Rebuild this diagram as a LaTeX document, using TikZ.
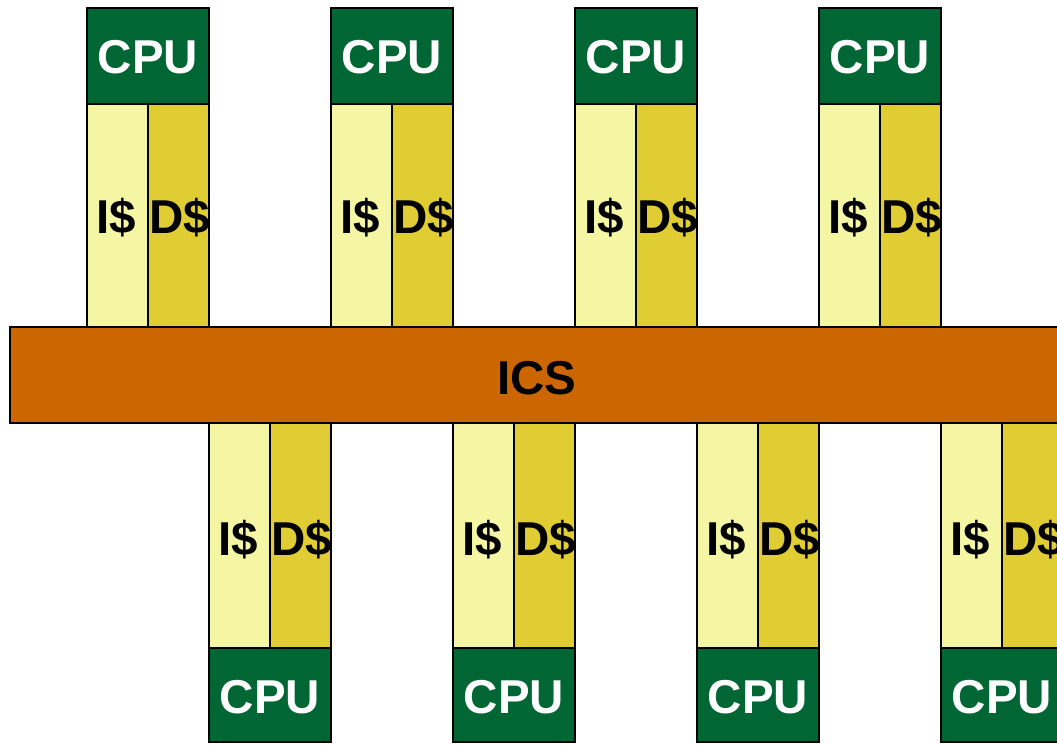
\documentclass[tikz,border=0pt]{standalone}
\usepackage{fontspec}
\setmainfont{Liberation Sans}
\definecolor{cpugreen}{HTML}{006633}
\definecolor{icsorange}{HTML}{CC6600}
\definecolor{icache}{HTML}{F4F6A4}
\definecolor{dcache}{HTML}{E0CC33}
\begin{document}
\begin{tikzpicture}[x=1pt,y=-1pt,
  box/.style={draw=black,line width=2pt,anchor=north west,inner sep=0pt,outer sep=0pt},
  cpubox/.style={box,fill=cpugreen,minimum width=122pt,minimum height=96pt},
  ibox/.style={box,fill=icache,minimum width=61pt,minimum height=#1},
  dbox/.style={box,fill=dcache,minimum width=61pt,minimum height=#1},
  lbl/.style={font=\fontsize{47.5}{47.5}\bfseries\selectfont,inner sep=0pt},
  cpulbl/.style={lbl,text=white}]
\useasboundingbox (0,0) rectangle (1057,744);
\clip (0,0) rectangle (1057,744);
% top units
\foreach \x [count=\i] in {87,331,575,819}{
  \node[cpubox] (tcpu\i) at (\x,8) {};
  \node[cpulbl] (tcput\i) at (\x+61,57) {CPU};
  \node[ibox=223pt] (ti\i) at (\x,104) {};
  \node[dbox=223pt] (td\i) at (\x+61,104) {};
  \node[lbl] (tcache\i) at (\x+66,218) {I\$ D\$};
}
% ICS bar
\node[box,fill=icsorange,minimum width=1060pt,minimum height=96pt] (ics) at (10,327) {};
\node[lbl] (icst) at (537,378) {ICS};
% bottom units
\foreach \x [count=\i] in {209,453,697,941}{
  \node[ibox=225pt] (bi\i) at (\x,423) {};
  \node[dbox=225pt] (bd\i) at (\x+61,423) {};
  \node[lbl] (bcache\i) at (\x+66,540) {I\$ D\$};
  \node[cpubox,minimum height=94pt] (bcpu\i) at (\x,648) {};
  \node[cpulbl] (bcput\i) at (\x+61,697) {CPU};
}
\end{tikzpicture}
\end{document}
